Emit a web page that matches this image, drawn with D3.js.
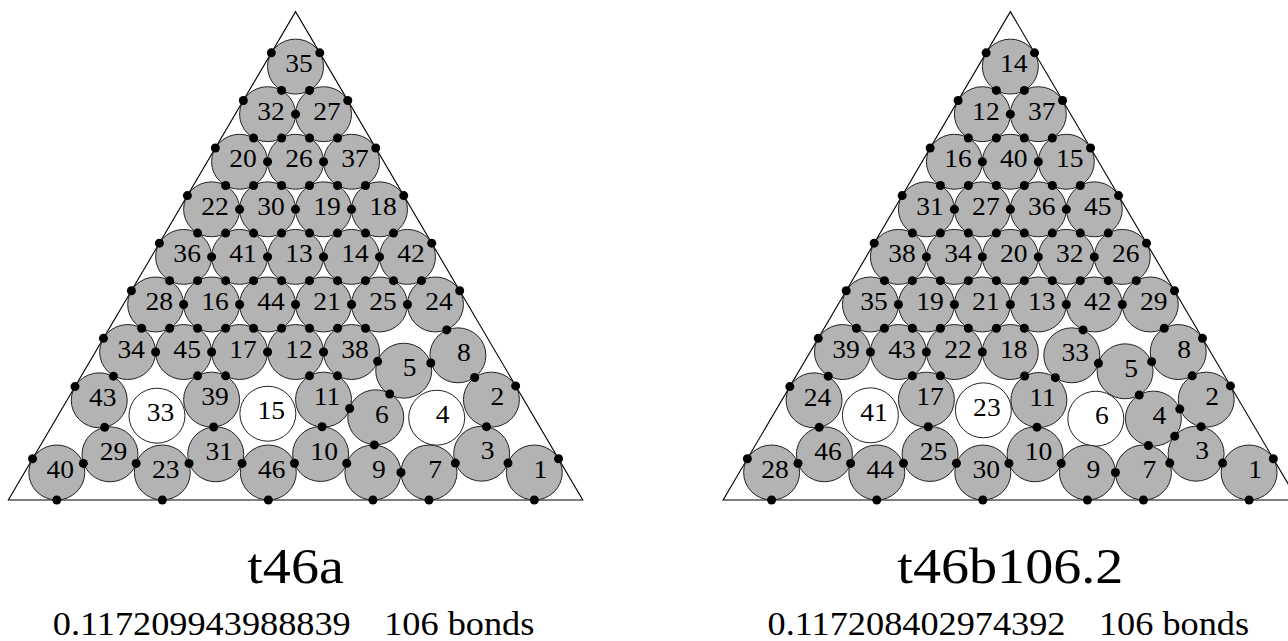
<!DOCTYPE html>
<html>
<head>
<meta charset="utf-8">
<script src="https://cdn.jsdelivr.net/npm/d3@7"></script>
<style>
  body { margin: 0; background: #fff; }
  svg { display: block; }
  text { font-family: "Liberation Serif", "Times New Roman", serif; white-space: pre; fill: #000; }
</style>
</head>
<body>
<div id="chart"></div>
<script>
"use strict";

/* Packing t46a: circle numbers row by row from the apex, centre coordinates
   in the unit triangle (centres live in a triangle of side 1) */
const labelsA = [35, 32, 27, 20, 26, 37, 22, 30, 19, 18, 36, 41, 13, 14, 42,
  28, 16, 44, 21, 25, 24, 34, 45, 17, 12, 38, 5, 8,
  43, 33, 39, 15, 11, 6, 4, 2,
  40, 29, 23, 31, 46, 10, 9, 7, 3, 1];
const uA = [0.5000, 0.4414, 0.5586, 0.3828, 0.5000, 0.6172,
  0.3242, 0.4414, 0.5586, 0.6758, 0.2656, 0.3828, 0.5000, 0.6172, 0.7344,
  0.2070, 0.3242, 0.4414, 0.5586, 0.6758, 0.7930,
  0.1484, 0.2656, 0.3828, 0.5000, 0.6172, 0.7265, 0.8400,
  0.0889, 0.2098, 0.3242, 0.4420, 0.5586, 0.6680, 0.7956, 0.9102,
  0.0000, 0.1114, 0.2210, 0.3328, 0.4430, 0.5525, 0.6620, 0.7795, 0.8898, 1.0000];
const vA = [0.8660, 0.7645, 0.7645, 0.6630, 0.6630, 0.6630,
  0.5615, 0.5615, 0.5615, 0.5615, 0.4600, 0.4600, 0.4600, 0.4600, 0.4600,
  0.3585, 0.3585, 0.3585, 0.3585, 0.3585, 0.3585,
  0.2570, 0.2570, 0.2570, 0.2570, 0.2570, 0.2172, 0.2500,
  0.1540, 0.1212, 0.1555, 0.1254, 0.1555, 0.1178, 0.1169, 0.1555,
  0.0000, 0.0388, 0.0000, 0.0388, 0.0000, 0.0395, 0.0000, 0.0000, 0.0401, 0.0000];
const rattlersA = [33, 15, 4];
// contacts: "a-b" between two circles, "a-L" / "a-R" / "a-B" against a wall
const bondsA = [
  "32-27", "20-26", "26-37", "22-30", "30-19", "19-18",
  "36-41", "41-13", "13-14", "14-42", "28-16", "16-44", "44-21", "21-25", "25-24",
  "34-45", "45-17", "17-12", "12-38",
  "35-32", "35-27", "32-20", "32-26", "27-26", "27-37",
  "20-22", "20-30", "26-30", "26-19", "37-19", "37-18",
  "22-36", "22-41", "30-41", "30-13", "19-13", "19-14", "18-14", "18-42",
  "36-28", "36-16", "41-16", "41-44", "13-44", "13-21", "14-21", "14-25", "42-25", "42-24",
  "28-34", "28-45", "16-45", "16-17", "44-17", "44-12", "21-12", "21-38", "25-38",
  "35-L", "32-L", "20-L", "22-L", "36-L", "28-L", "34-L", "43-L", "40-L",
  "35-R", "27-R", "37-R", "18-R", "42-R", "24-R", "2-R", "1-R",
  "40-B", "23-B", "46-B", "9-B", "7-B", "1-B",
  "24-8", "8-5", "8-2", "5-38", "5-6", "6-11", "6-9", "11-12", "11-38", "11-10",
  "39-45", "39-17", "39-31", "43-34", "43-29", "40-29", "29-23", "23-31", "31-46",
  "46-10", "10-9", "9-7", "7-3", "3-1", "3-2"
];

/* Packing t46b106.2 */
const labelsB = [14, 12, 37, 16, 40, 15, 31, 27, 36, 45, 38, 34, 20, 32, 26,
  35, 19, 21, 13, 42, 29, 39, 43, 22, 18, 33, 5, 8,
  24, 41, 17, 23, 11, 6, 4, 2,
  28, 46, 44, 25, 30, 10, 9, 7, 3, 1];
const uB = [0.5000, 0.4414, 0.5586, 0.3828, 0.5000, 0.6172,
  0.3242, 0.4414, 0.5586, 0.6758, 0.2656, 0.3828, 0.5000, 0.6172, 0.7344,
  0.2070, 0.3242, 0.4414, 0.5586, 0.6758, 0.7930,
  0.1484, 0.2656, 0.3828, 0.5000, 0.6287, 0.7403, 0.8516,
  0.0889, 0.2069, 0.3242, 0.4435, 0.5598, 0.6790, 0.7995, 0.9102,
  0.0000, 0.1106, 0.2203, 0.3319, 0.4423, 0.5518, 0.6614, 0.7787, 0.8890, 1.0000];
const vB = [0.8660, 0.7645, 0.7645, 0.6630, 0.6630, 0.6630,
  0.5615, 0.5615, 0.5615, 0.5615, 0.4600, 0.4600, 0.4600, 0.4600, 0.4600,
  0.3585, 0.3585, 0.3585, 0.3585, 0.3585, 0.3585,
  0.2570, 0.2570, 0.2570, 0.2570, 0.2500, 0.2159, 0.2570,
  0.1540, 0.1220, 0.1555, 0.1327, 0.1547, 0.1148, 0.1150, 0.1555,
  0.0000, 0.0388, 0.0000, 0.0395, 0.0000, 0.0388, 0.0000, 0.0000, 0.0401, 0.0000];
const rattlersB = [41, 23, 6];
const bondsB = [
  "12-37", "16-40", "40-15", "31-27", "27-36", "36-45",
  "38-34", "34-20", "20-32", "32-26", "35-19", "19-21", "21-13", "13-42", "42-29",
  "39-43", "43-22", "22-18",
  "14-12", "14-37", "12-16", "12-40", "37-40", "37-15",
  "16-31", "16-27", "40-27", "40-36", "15-36", "15-45",
  "31-38", "31-34", "27-34", "27-20", "36-20", "36-32", "45-32", "45-26",
  "38-35", "38-19", "34-19", "34-21", "20-21", "20-13", "32-13", "32-42", "26-42", "26-29",
  "35-39", "35-43", "19-43", "19-22", "21-22", "21-18", "13-18", "29-8",
  "14-L", "12-L", "16-L", "31-L", "38-L", "35-L", "39-L", "24-L", "28-L",
  "14-R", "37-R", "15-R", "45-R", "26-R", "29-R", "8-R", "2-R", "1-R",
  "28-B", "44-B", "30-B", "9-B", "7-B", "1-B",
  "42-33", "33-11", "18-11", "33-5", "5-8", "5-4", "8-2", "4-2", "4-3", "4-7",
  "2-3", "3-7", "3-1", "7-9", "9-10", "10-11", "10-30", "30-25", "25-17", "17-43",
  "17-22", "25-44", "44-46", "46-28", "46-24", "24-39"
];

const names = ["t46a", "t46b106.2"];
const distances = ["0.117209943988839", "0.117208402974392"];
const bondCounts = [106, 106];

/* Layout */
const WIDTH = 1288, HEIGHT = 641;
const UNIT_X = 477.5, UNIT_Y = 468.7;   // px per unit of the centre triangle
const BASE_Y = 472.5;                    // y of the lowest circle centres
const ORIGINS = [56.8, 771.6];           // x of the bottom-left circle centre
const SQ3 = Math.sqrt(3);

const svg = d3.select("#chart")
  .append("svg")
  .attr("width", WIDTH)
  .attr("height", HEIGHT);

const packings = [
  { labels: labelsA, u: uA, v: vA, rattlers: rattlersA, bonds: bondsA },
  { labels: labelsB, u: uB, v: vB, rattlers: rattlersB, bonds: bondsB }
];

packings.forEach((spec, i) => drawPacking(spec, i));

function drawPacking(spec, i) {
  const x = d3.scaleLinear().domain([0, 1]).range([ORIGINS[i], ORIGINS[i] + UNIT_X]);
  const y = d3.scaleLinear().domain([0, 1]).range([BASE_Y, BASE_Y - UNIT_Y]);
  const r = +distances[i] / 2;

  const nodes = spec.labels.map((lab, k) => ({
    lab, u: spec.u[k], v: spec.v[k], rattler: spec.rattlers.includes(lab)
  }));
  const byLab = new Map(nodes.map(n => [n.lab, n]));

  const g = svg.append("g");

  // container triangle (outer edge of the circles)
  const corners = [[-r * SQ3, -r], [1 + r * SQ3, -r], [0.5, SQ3 / 2 + 2 * r]];
  g.append("path")
    .attr("d", d3.line().x(p => x(p[0])).y(p => y(p[1]))(corners) + "Z")
    .attr("fill", "none")
    .attr("stroke", "#000")
    .attr("stroke-width", 1.1);

  const rx = x(r) - x(0), ry = y(0) - y(r);

  g.selectAll("ellipse.disk")
    .data(nodes)
    .enter()
    .append("ellipse")
    .attr("class", "disk")
    .attr("cx", d => x(d.u))
    .attr("cy", d => y(d.v))
    .attr("rx", rx)
    .attr("ry", ry)
    .attr("fill", d => d.rattler ? "#fff" : "#b3b3b3")
    .attr("stroke", "#222")
    .attr("stroke-width", 1);

  g.selectAll("text.lab")
    .data(nodes)
    .enter()
    .append("text")
    .attr("class", "lab")
    .attr("text-anchor", "middle")
    .attr("font-size", 25.5)
    .attr("transform", d => {
      const dx = String(d.lab).length === 1 ? 6 : 3.5;
      return `translate(${x(d.u) + dx},${y(d.v) + 5.6}) scale(1.08,1)`;
    })
    .text(d => d.lab);

  // contact points
  const normals = { L: [-SQ3 / 2, 0.5], R: [SQ3 / 2, 0.5], B: [0, -1] };
  const dots = spec.bonds.map(b => {
    const [a, c] = b.split("-");
    const n = byLab.get(+a);
    if (normals[c]) {
      return { u: n.u + r * normals[c][0], v: n.v + r * normals[c][1] };
    }
    const m = byLab.get(+c);
    return { u: (n.u + m.u) / 2, v: (n.v + m.v) / 2 };
  });

  g.selectAll("circle.bond")
    .data(dots)
    .enter()
    .append("circle")
    .attr("class", "bond")
    .attr("cx", d => x(d.u))
    .attr("cy", d => y(d.v))
    .attr("r", 4.5)
    .attr("fill", "#000");

  // captions
  const cx = x(0.5);
  svg.append("text")
    .attr("text-anchor", "middle")
    .attr("font-size", 51)
    .attr("transform", `translate(${cx},582.7) scale(1.1,1)`)
    .text(names[i]);

  const sub = svg.append("text")
    .attr("text-anchor", "middle")
    .attr("font-size", 33.6)
    .attr("transform", `translate(${cx - 2},634.5) scale(1.08,1)`);
  sub.append("tspan").text(distances[i]);
  sub.append("tspan").attr("dx", 31).text(`${bondCounts[i]} bonds`);
}
</script>
</body>
</html>
